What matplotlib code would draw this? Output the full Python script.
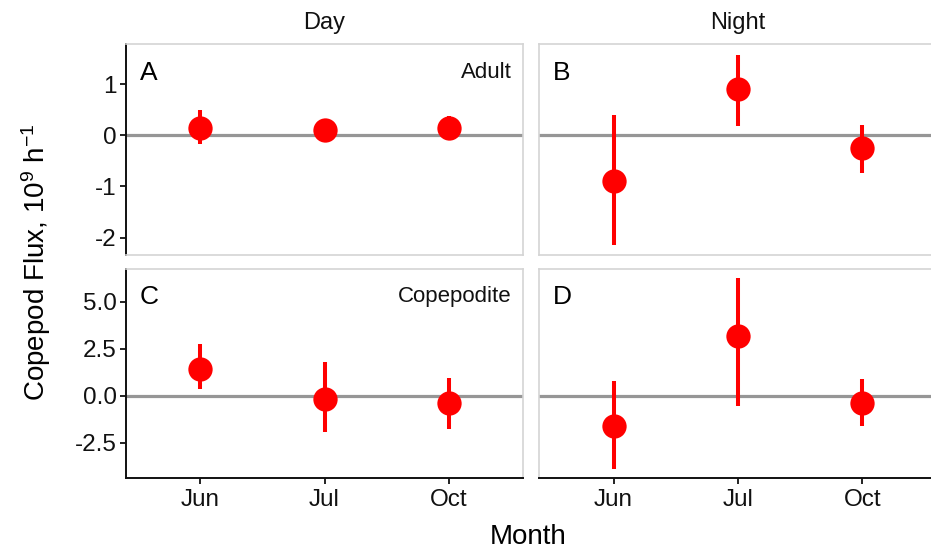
import numpy as np
import matplotlib
matplotlib.use("Agg")
import matplotlib.pyplot as plt

plt.rcParams['font.family'] = ['Liberation Sans', 'DejaVu Sans']
plt.rcParams['mathtext.fontset'] = 'custom'
plt.rcParams['mathtext.rm'] = 'Liberation Sans'
plt.rcParams['mathtext.it'] = 'Liberation Sans:italic'

months = ['Jun', 'Jul', 'Oct']
times = ['Day', 'Night']

# flux estimates with lower / upper interval limits
adult_day = [0.15, 0.10, 0.15]
adult_day_lo = [-0.17, 0.00, -0.05]
adult_day_hi = [0.49, 0.20, 0.38]

adult_night = [-0.90, 0.91, -0.24]
adult_night_lo = [-2.15, 0.18, -0.73]
adult_night_hi = [0.40, 1.58, 0.20]

cope_day = [1.40, -0.16, -0.37]
cope_day_lo = [0.36, -1.92, -1.78]
cope_day_hi = [2.75, 1.80, 0.94]

cope_night = [-1.61, 3.19, -0.41]
cope_night_lo = [-3.90, -0.53, -1.61]
cope_night_hi = [0.76, 6.24, 0.87]

adult_ticks = [-2, -1, 0, 1]
adult_ticklabels = ['-2', '-1', '0', '1']
cope_ticks = [-2.5, 0.0, 2.5, 5.0]
cope_ticklabels = ['-2.5', '0.0', '2.5', '5.0']

W, H = 931, 550
fig = plt.figure(figsize=(W / 100, H / 100), dpi=100)


def px_axes(x0, y0, x1, y1):
    # pixel box (top-left origin) -> figure fraction
    return fig.add_axes([x0 / W, 1 - y1 / H, (x1 - x0) / W, (y1 - y0) / H])


cols = [(126, 523), (539, 937)]
rows = [(44.3, 255), (269, 478.3)]

panels = [
    [(adult_day, adult_day_lo, adult_day_hi), (adult_night, adult_night_lo, adult_night_hi)],
    [(cope_day, cope_day_lo, cope_day_hi), (cope_night, cope_night_lo, cope_night_hi)],
]
ylims = [(-2.34, 1.78), (-4.39, 6.74)]
yticks = [(adult_ticks, adult_ticklabels), (cope_ticks, cope_ticklabels)]
letters = [['A', 'B'], ['C', 'D']]
stage = ['Adult', 'Copepodite']

x = np.arange(1, len(months) + 1)
border = '#d4d4d4'
ink = '#111111'

for r in range(2):
    for c in range(2):
        ax = px_axes(cols[c][0], rows[r][0], cols[c][1], rows[r][1])
        y, lo, hi = panels[r][c]
        ax.axhline(0, color='#969696', lw=2.3, zorder=1)
        ax.vlines(x, lo, hi, color='#ff0000', lw=2.9, zorder=2)
        ax.plot(x, y, 'o', color='#ff0000', ms=17.5, mec='none', zorder=3)
        ax.set_xlim(0.4, 3.6)
        ax.set_ylim(*ylims[r])

        for s in ax.spines.values():
            s.set_color(border)
            s.set_linewidth(1.2)

        ax.set_xticks(x)
        ax.set_yticks(yticks[r][0])
        ax.tick_params(length=4, width=1.3, color=ink, labelcolor=ink,
                       labelsize=17.5, pad=2.5)

        if c == 0:
            ax.spines['left'].set_color(ink)
            ax.spines['left'].set_linewidth(1.4)
            ax.set_yticklabels(yticks[r][1])
            ax.text(0.972, 0.842, stage[r], transform=ax.transAxes,
                    fontsize=16, ha='right', va='baseline', color=ink)
        else:
            ax.tick_params(axis='y', left=False, labelleft=False)

        if r == 1:
            ax.spines['bottom'].set_color(ink)
            ax.spines['bottom'].set_linewidth(1.4)
            ax.set_xticklabels(months)
            ax.tick_params(axis='x', pad=4)
        else:
            ax.tick_params(axis='x', bottom=False, labelbottom=False)

        ax.text(0.034, 0.832, letters[r][c], transform=ax.transAxes,
                fontsize=19, ha='left', va='baseline', color='#000000')

# facet strip labels
for c in range(2):
    fig.text((cols[c][0] + cols[c][1]) / 2 / W, 1 - 29 / H, times[c],
             fontsize=17, ha='center', va='baseline', color=ink)

fig.text(528 / W, 1 - 544 / H, 'Month', fontsize=20, ha='center', va='baseline')
fig.text(36 / W, 1 - 262 / H, 'Copepod Flux, 10$^{9}$ h$^{-1}$', fontsize=20,
         rotation=90, ha='center', va='center')

fig.savefig('out.png', dpi=100)
